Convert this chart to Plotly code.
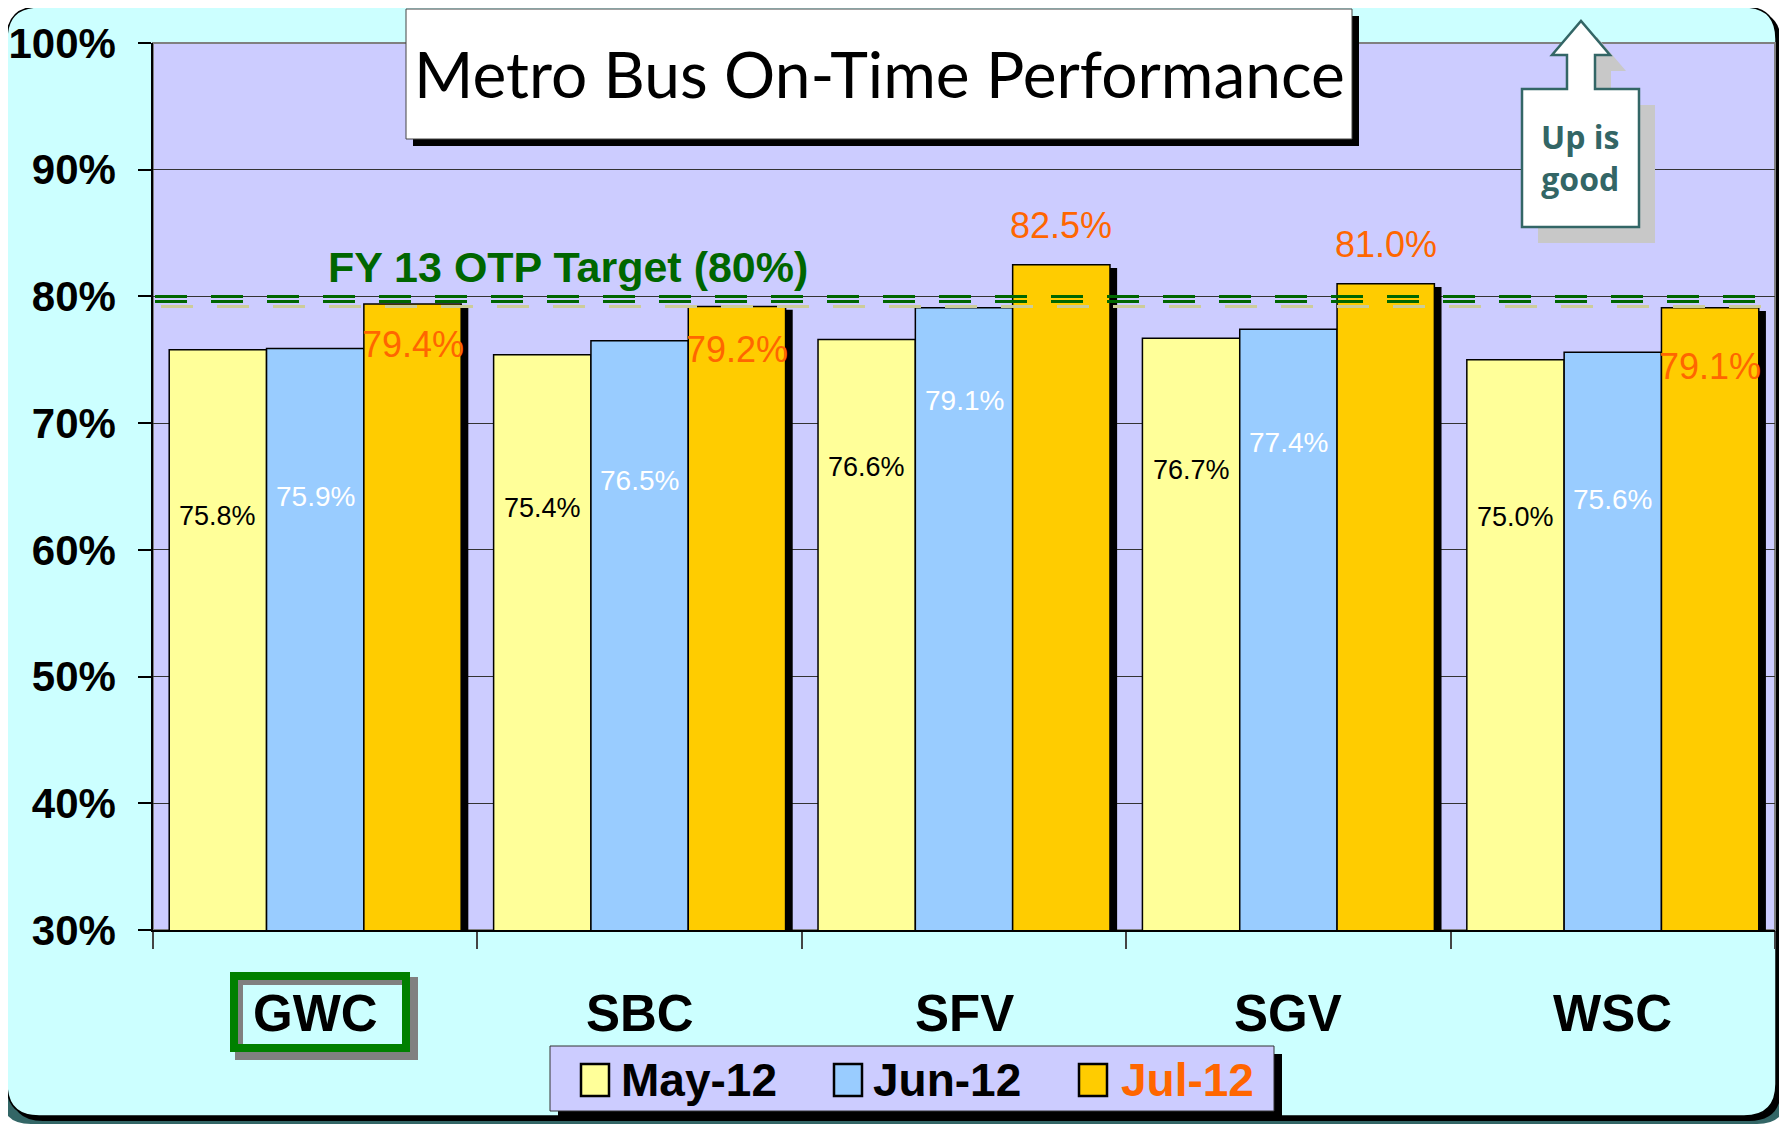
import plotly.graph_objects as go

# ---------------- data ----------------
categories = ["GWC", "SBC", "SFV", "SGV", "WSC"]
series_names = ["May-12", "Jun-12", "Jul-12"]
may_12 = [75.8, 75.4, 76.6, 76.7, 75.0]
jun_12 = [75.9, 76.5, 79.1, 77.4, 75.6]
jul_12 = [79.4, 79.2, 82.5, 81.0, 79.1]
y_tick_values = [30, 40, 50, 60, 70, 80, 90, 100]
y_tick_labels = ["30%", "40%", "50%", "60%", "70%", "80%", "90%", "100%"]
target_value = 80
target_label = "FY 13 OTP Target (80%)"
title_text = "Metro Bus On-Time Performance"
note_text = "Up is<br>good"
# heights (in % units) at which the value labels sit
may_label_y = [62.7, 63.3, 66.5, 66.3, 62.6]
jun_label_y = [64.2, 65.5, 71.8, 68.5, 64.0]
jul_label_y = [76.2, 75.8, 85.6, 84.1, 74.5]

# ---------------- styling / geometry ----------------
OFF = 8                      # page margin of the html body
FIG_W, FIG_H = 1779, 1116
L, R, T, B = 145, 1767, 35, 922   # plot area in figure pixels
PW, PH = R - L, B - T
CYAN = "#CCFFFF"
LAV = "#CCCCFF"
COLORS = ["#FFFF99", "#99CCFF", "#FFCC00"]
ORANGE = "#FF6600"
GREEN = "#006600"
TEAL = "#336666"
ARIAL = "Liberation Sans, Arial, sans-serif"

BAR_W = 0.3
OFFSETS = [-0.45, -0.15, 0.15]


def px(sx):
    """screen x -> paper x"""
    return (sx - OFF - L) / PW


def py(sy):
    """screen y -> paper y"""
    return (B - (sy - OFF)) / PH


def rrect_path(x0, y0, x1, y1, r):
    pts = [
        ("M", [(x0 + r, y0)]), ("L", [(x1 - r, y0)]), ("Q", [(x1, y0), (x1, y0 + r)]),
        ("L", [(x1, y1 - r)]), ("Q", [(x1, y1), (x1 - r, y1)]),
        ("L", [(x0 + r, y1)]), ("Q", [(x0, y1), (x0, y1 - r)]),
        ("L", [(x0, y0 + r)]), ("Q", [(x0, y0), (x0 + r, y0)]),
    ]
    s = ""
    for cmd, ps in pts:
        s += cmd + " " + " ".join(f"{px(a):.5f},{py(b):.5f}" for a, b in ps) + " "
    return s + "Z"


def poly_path(points):
    s = "M " + " L ".join(f"{px(a):.5f},{py(b):.5f}" for a, b in points)
    return s + " Z"


def rect_shape(x0, y0, x1, y1, fill=None, line_color=None, line_width=0, layer="above"):
    return dict(type="rect", xref="paper", yref="paper",
                x0=px(x0), x1=px(x1), y0=py(y1), y1=py(y0), layer=layer,
                line=dict(width=line_width, color=line_color or "rgba(0,0,0,0)"),
                fillcolor=fill if fill else "rgba(0,0,0,0)")


idx = list(range(len(categories)))
series = [may_12, jun_12, jul_12]

fig = go.Figure()
for name, vals, col, off in zip(series_names, series, COLORS, OFFSETS):
    fig.add_trace(go.Bar(
        x=idx, y=vals, name=name, width=BAR_W, offset=off,
        marker=dict(color=col, line=dict(color="black", width=1.5)),
        showlegend=False, hoverinfo="x+y",
    ))

shapes = []
# outer frame (below everything)
shapes.append(dict(type="path", xref="paper", yref="paper", layer="below",
                   path=rrect_path(1, 1050, 1787, 1124, 30), fillcolor=TEAL,
                   line=dict(width=0)))
shapes.append(dict(type="path", xref="paper", yref="paper", layer="below",
                   path=rrect_path(11, 11, 1781, 1121, 32), fillcolor="black",
                   line=dict(width=0)))
shapes.append(dict(type="path", xref="paper", yref="paper", layer="below",
                   path=rrect_path(7, 7, 1776, 1116, 32), fillcolor=CYAN,
                   line=dict(width=1.5, color="black")))
# plot area
shapes.append(dict(type="rect", xref="paper", yref="paper", layer="below",
                   x0=0, x1=1, y0=0, y1=1, fillcolor=LAV,
                   line=dict(width=2, color="#808080")))

# Jul bar shadows
for i, v in zip(idx, jul_12):
    shapes.append(dict(type="rect", xref="x", yref="y", layer="above",
                       x0=i + OFFSETS[2] + BAR_W, x1=i + OFFSETS[2] + BAR_W + 0.022,
                       y0=30, y1=v - 0.25, fillcolor="black", line=dict(width=0)))

# target line (double dashed + pale offset)
unit = PH / (y_tick_values[-1] - y_tick_values[0])
for dy_px, dx_px, col in [(0, 0, GREEN), (5, 0, GREEN), (10, 6, "#CCCC99")]:
    shapes.append(dict(type="line", xref="paper", yref="y", layer="above",
                       x0=px(L + OFF + 2 + dx_px), x1=1, y0=target_value - dy_px / unit,
                       y1=target_value - dy_px / unit,
                       line=dict(color=col, width=3, dash="32px,24px")))

# title box
shapes.append(rect_shape(413, 16, 1359, 146, fill="black"))
shapes.append(rect_shape(406, 9, 1352, 139, fill="white", line_color="#444", line_width=1))

# "Up is good" arrow callout
arrow = [(1522, 89), (1567, 89), (1567, 55), (1552, 55), (1581, 21), (1610, 55),
         (1595, 55), (1595, 89), (1639, 89), (1639, 227), (1522, 227)]
shapes.append(dict(type="path", xref="paper", yref="paper", layer="above",
                   path=poly_path([(a + 16, b + 16) for a, b in arrow]),
                   fillcolor="#C8C8C8", line=dict(width=0)))
shapes.append(dict(type="path", xref="paper", yref="paper", layer="above",
                   path=poly_path(arrow), fillcolor="white",
                   line=dict(width=2.5, color=TEAL)))

# GWC highlight box
shapes.append(rect_shape(239, 981, 414, 1056, line_color="#808080", line_width=8))
shapes.append(rect_shape(234, 976, 406, 1048, line_color="#008000", line_width=8))

# legend box
shapes.append(rect_shape(558, 1054, 1282, 1119, fill="black"))
shapes.append(rect_shape(550, 1046, 1274, 1111, fill=LAV, line_color="#333", line_width=1))
legend_sq_x = [581, 834, 1079]
legend_txt_x = [619, 871, 1119]
for sx, col in zip(legend_sq_x, COLORS):
    shapes.append(rect_shape(sx, 1064, sx + 28, 1096, fill=col, line_color="black", line_width=2.5))

annotations = []
# value labels
label_specs = [
    (may_12, may_label_y, "black", 27),
    (jun_12, jun_label_y, "white", 28),
    (jul_12, jul_label_y, ORANGE, 36),
]
for (vals, ly, col, size), off in zip(label_specs, OFFSETS):
    for i, v, yy in zip(idx, vals, ly):
        annotations.append(dict(x=i + off + BAR_W / 2, y=yy, xref="x", yref="y",
                                text=f"{v:.1f}%", showarrow=False,
                                font=dict(family=ARIAL, size=size, color=col),
                                xanchor="center", yanchor="middle"))

# category labels
for i, c in zip(idx, categories):
    annotations.append(dict(x=i, y=py(1013), xref="x", yref="paper", text=f"<b>{c}</b>",
                            showarrow=False, font=dict(family=ARIAL, size=51, color="black"),
                            xanchor="center", yanchor="middle"))

# target label
annotations.append(dict(x=px(568), y=py(267), xref="paper", yref="paper",
                        text=f"<b>{target_label}</b>", showarrow=False,
                        font=dict(family=ARIAL, size=43, color=GREEN),
                        xanchor="center", yanchor="middle"))
# title
annotations.append(dict(x=px(879), y=py(73), xref="paper", yref="paper",
                        text=title_text, showarrow=False,
                        font=dict(family="Lato, Open Sans, sans-serif", size=64, color="black"),
                        xanchor="center", yanchor="middle"))
# up is good
annotations.append(dict(x=px(1580), y=py(157), xref="paper", yref="paper",
                        text=f"<b>{note_text}</b>", showarrow=False,
                        font=dict(family="Open Sans, Noto Sans, sans-serif", size=32, color=TEAL),
                        xanchor="center", yanchor="middle"))
# legend text
for tx, name, col in zip(legend_txt_x, series_names, ["black", "black", ORANGE]):
    annotations.append(dict(x=px(tx), y=py(1080), xref="paper", yref="paper",
                            text=f"<b>{name}</b>", showarrow=False,
                            font=dict(family=ARIAL, size=46, color=col),
                            xanchor="left", yanchor="middle"))

fig.update_layout(
    width=FIG_W, height=FIG_H, autosize=False,
    margin=dict(l=L, r=FIG_W - R, t=T, b=FIG_H - B, pad=0, autoexpand=False),
    paper_bgcolor="white", plot_bgcolor="rgba(0,0,0,0)",
    barmode="overlay",
    shapes=shapes, annotations=annotations,
    showlegend=False,
    xaxis=dict(range=[-0.5, len(categories) - 0.5],
               tickvals=[i - 0.5 for i in range(len(categories) + 1)],
               ticktext=[""] * (len(categories) + 1),
               ticks="outside", ticklen=17, tickcolor="#444", tickwidth=1.5,
               showgrid=False, zeroline=False, showline=True, linecolor="black", linewidth=2,
               fixedrange=True, automargin=False),
    yaxis=dict(range=[y_tick_values[0], y_tick_values[-1]],
               tickvals=y_tick_values, ticktext=y_tick_labels,
               ticks="outside", ticklen=13, tickcolor="black", tickwidth=1.5,
               showgrid=True, gridcolor="#333333", gridwidth=1,
               zeroline=False, showline=True, linecolor="black", linewidth=1.5,
               tickfont=dict(family=ARIAL, size=42, color="black", weight="bold"),
               ticklabelstandoff=14, fixedrange=True, automargin=False),
)

fig.write_html("out.html")
